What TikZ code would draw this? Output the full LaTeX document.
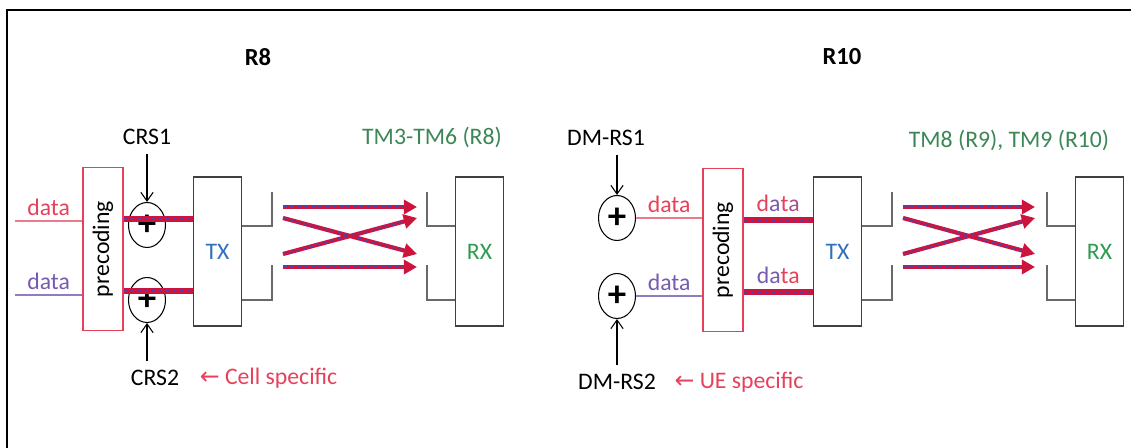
\documentclass[tikz,border=0pt]{standalone}
\usepackage{fontspec}
\setmainfont{Carlito}
\newfontfamily\arrowfont{DejaVu Sans}
\usepackage{tikz}
\usetikzlibrary{arrows.meta, positioning, shapes.geometric}
\usepackage{xcolor}

\definecolor{datared}{RGB}{230,65,90}
\definecolor{datapurple}{RGB}{120,90,175}
\definecolor{txblue}{RGB}{50,110,190}
\definecolor{rxgreen}{RGB}{45,155,80}
\definecolor{tmgreen}{RGB}{60,135,85}
\definecolor{beamred}{RGB}{205,20,60}
\definecolor{beampurple}{RGB}{95,60,170}
\definecolor{antgray}{RGB}{105,105,105}

\newcommand{\dataup}{\textcolor{datared}{d}\textcolor{datapurple}{a}\textcolor{datared}{t}\textcolor{datapurple!60!datared}{a}}
\newcommand{\datadown}{\textcolor{datapurple}{da}\textcolor{datared}{ta}}

\begin{document}
\begin{tikzpicture}[
    x=0.02cm, y=-0.02cm,
    every node/.style={
        inner sep=0pt,
        font=\fontsize{13.5}{16}\selectfont
    },
    unit/.style={draw=black!75, line width=0.8pt, minimum width=0.96cm, minimum height=2.98cm},
    precbox/.style={draw=datared, line width=0.8pt, minimum width=0.8cm, minimum height=3.26cm},
    adder/.style={draw, ellipse, line width=0.6pt, minimum width=0.74cm, minimum height=0.9cm,
        font=\fontsize{21}{21}\selectfont\bfseries},
    title/.style={font=\fontsize{14}{16}\selectfont\bfseries},
    refarrow/.style={-{Straight Barb[length=5pt,width=7pt]}, line width=0.6pt, shorten <=5pt},
    redline/.style={draw=datared!70, line width=0.6pt},
    purpleline/.style={draw=datapurple!80, line width=0.6pt},
    stream/.style={draw=beamred, line width=3pt,
        postaction={draw=beampurple, line width=1pt, dash pattern=on 2pt off 2pt}},
    beam/.style={draw=beamred, line width=2.4pt, -{Triangle[length=7.5pt,width=8pt]},
        postaction={draw=beampurple, line width=0.9pt, dash pattern=on 2pt off 2pt, shorten >=7.5pt, -}},
    ant/.style={draw=antgray, line width=0.7pt}
]
\useasboundingbox (0,0) rectangle (1131,448);
\draw[line width=1.2pt] (7,448) -- (7,10) -- (1131,10);

% R8
\node[title] (r8) at (258,57) {R8};
\node[precbox] (prec1) at (103,249) {};
\node[rotate=90] (prectxt1) at (prec1) {precoding};
\node[adder] (sum1) at (147,225) {+};
\node[adder] (sum2) at (147,300) {+};
\node[unit, text=txblue] (tx1) at (217.5,251.5) {TX};
\node[unit, text=rxgreen] (rx1) at (479.5,251.5) {RX};
\node (crs1) at (147,137) {CRS1};
\node (crs2) at (155,378) {CRS2};
\node[text=datared, right=0.4cm of crs2] (cell) {{\arrowfont ←} Cell specific};
\node[text=tmgreen] (tm1) at (432,137) {TM3-TM6 (R8)};

\coordinate (in1) at (15,221);
\coordinate (in2) at (15,295);
\draw[redline] (in1) -- node[above=3pt, text=datared] {data} (in1 -| prec1.west);
\draw[purpleline] (in2) -- node[above=3pt, text=datapurple] {data} (in2 -| prec1.west);
\draw[refarrow] (crs1) -- (sum1);
\draw[refarrow] (crs2.north -| sum2) -- (sum2);
\draw[stream] (prec1.east |- 0,219) -- (tx1.west |- 0,219);
\draw[stream] (prec1.east |- 0,291) -- (tx1.west |- 0,291);

\draw[ant] (tx1.east |- 0,226) -| (272,192);
\draw[ant] (tx1.east |- 0,300) -| (272,265);
\draw[ant] (rx1.west |- 0,226) -| (427,192);
\draw[ant] (rx1.west |- 0,300) -| (427,265);

\foreach \n/\y in {1/207, 2/218, 3/254, 4/267} {
    \coordinate (b\n) at (283,\y);
    \coordinate (c\n) at (417,\y);
    \coordinate (d\n) at (903,\y);
    \coordinate (e\n) at (1035,\y);
}
\draw[beam] (b1) -- (c1);
\draw[beam] (b2) -- (c3);
\draw[beam] (b3) -- (c2);
\draw[beam] (b4) -- (c4);

% R10
\node[title] (r10) at (842,57) {R10};
\node[adder] (sum3) at (617,218) {+};
\node[adder] (sum4) at (617,296) {+};
\node[precbox] (prec2) at (723,250) {};
\node[rotate=90] (prectxt2) at (prec2) {precoding};
\node[unit, text=txblue] (tx2) at (837.5,251.5) {TX};
\node[unit, text=rxgreen] (rx2) at (1099.5,251.5) {RX};
\node (dmrs1) at (606,138) {DM-RS1};
\node (dmrs2) at (617,382) {DM-RS2};
\node[text=datared, right=0.36cm of dmrs2] (ue) {{\arrowfont ←} UE specific};
\node[text=tmgreen] (tm2) at (1009,140) {TM8 (R9), TM9 (R10)};

\draw[refarrow] (dmrs1.south -| sum3) -- (sum3);
\draw[refarrow] (dmrs2.north -| sum4) -- (sum4);
\draw[redline] (sum3) -- node[above=3pt, text=datared] {data} (sum3 -| prec2.west);
\draw[purpleline] (sum4) -- node[above=3pt, text=datapurple] {data} (sum4 -| prec2.west);
\draw[stream] (prec2.east |- 0,220) -- node[above=3pt] {\dataup} (tx2.west |- 0,220);
\draw[stream] (prec2.east |- 0,292) -- node[above=3pt] {\datadown} (tx2.west |- 0,292);

\draw[ant] (tx2.east |- 0,226) -| (892,192);
\draw[ant] (tx2.east |- 0,300) -| (892,265);
\draw[ant] (rx2.west |- 0,226) -| (1047,192);
\draw[ant] (rx2.west |- 0,300) -| (1047,265);

\draw[beam] (d1) -- (e1);
\draw[beam] (d2) -- (e3);
\draw[beam] (d3) -- (e2);
\draw[beam] (d4) -- (e4);
\end{tikzpicture}
\end{document}
